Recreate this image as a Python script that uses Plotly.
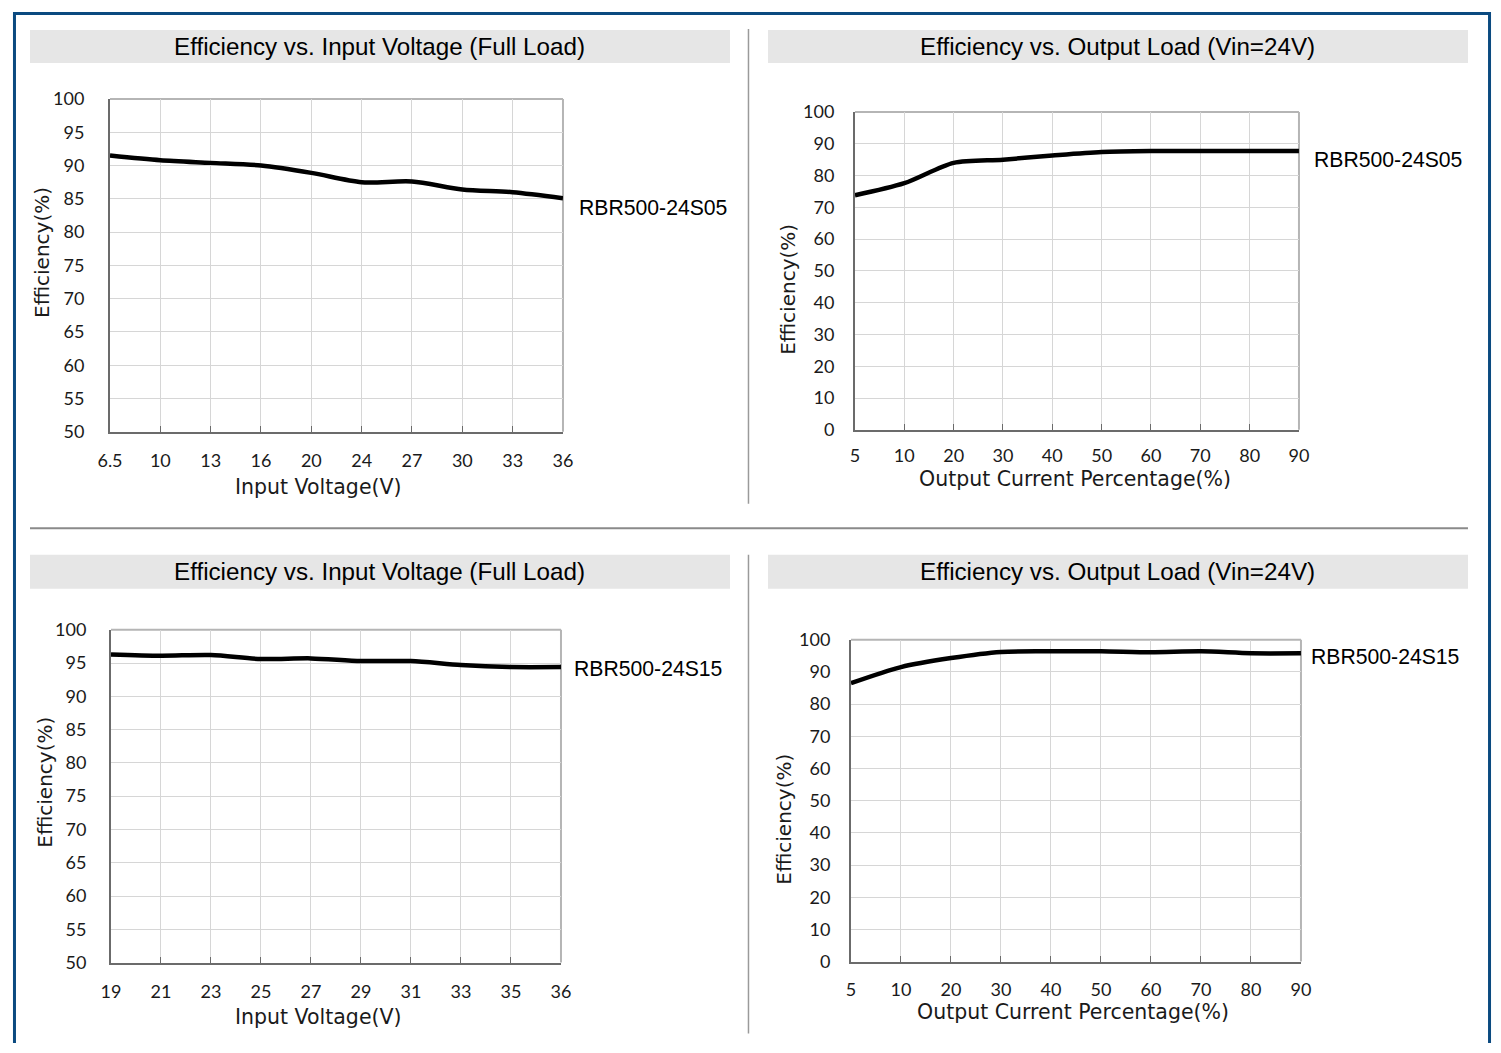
import plotly.graph_objects as go

W, H = 1501, 1053

# ---------------- data ----------------
vin_05 = ["6.5", "10", "13", "16", "20", "24", "27", "30", "33", "36"]
eff_vin_05 = [91.5, 90.8, 90.4, 90.0, 88.9, 87.5, 87.6, 86.4, 86.0, 85.1]

load_pct = ["5", "10", "20", "30", "40", "50", "60", "70", "80", "90"]
eff_load_05 = [73.8, 77.6, 84.0, 85.0, 86.3, 87.4, 87.7, 87.7, 87.7, 87.7]

vin_15 = ["19", "21", "23", "25", "27", "29", "31", "33", "35", "36"]
eff_vin_15 = [96.3, 96.1, 96.2, 95.6, 95.7, 95.3, 95.3, 94.7, 94.4, 94.4]

eff_load_15 = [86.5, 91.5, 94.3, 96.2, 96.4, 96.4, 96.1, 96.4, 95.8, 95.8]

titles = ["Efficiency vs. Input Voltage (Full Load)", "Efficiency vs. Output Load (Vin=24V)",
          "Efficiency vs. Input Voltage (Full Load)", "Efficiency vs. Output Load (Vin=24V)"]
models = ["RBR500-24S05", "RBR500-24S05", "RBR500-24S15", "RBR500-24S15"]
xtitles = ["Input Voltage(V)", "Output Current Percentage(%)", "Input Voltage(V)", "Output Current Percentage(%)"]

# ---------------- layout helpers ----------------
# target pixel positions are compensated for the small inset seen in the photographed page
OFF, SX, SY = 13.0, 0.9847, 0.9795

def px(x):
    return ((x - OFF) / SX) / W

def py(y):
    return 1 - ((y - OFF) / SY) / H

areas = [(110, 563, 100, 433), (855, 1299, 113, 431), (111, 561, 631, 964), (851, 1301, 641, 963)]
yranges = [(50, 100, 5), (0, 100, 10), (50, 100, 5), (0, 100, 10)]
series = [(vin_05, eff_vin_05), (load_pct, eff_load_05), (vin_15, eff_vin_15), (load_pct, eff_load_15)]
label_pos = [(577, 209), (1312, 161), (572, 670), (1309, 658)]
ytitle_pos = [(42, 253), (788, 290), (45, 783), (784, 820)]
xtitle_pos = [(319, 488), (1075, 480), (319, 1018), (1073, 1013)]
title_bars = [(30, 730, 31, 64), (768, 1468, 31, 64), (30, 730, 556, 590), (768, 1468, 556, 590)]
x_standoff = [12, 9, 12, 11]
y_standoff = [20, 15, 19, 15]

TICKFONT = dict(family="Lato, 'DejaVu Sans', sans-serif", size=18, color="#1a1a1a")
AXTITLE = "'DejaVu Sans', sans-serif"
ARIAL = "'Liberation Sans', Arial, sans-serif"

fig = go.Figure()
shapes = []
annotations = []

for i in range(4):
    n = i + 1
    xa = "x" if n == 1 else f"x{n}"
    ya = "y" if n == 1 else f"y{n}"
    xs, ys = series[i]
    fig.add_trace(go.Scatter(x=xs, y=ys, mode="lines", xaxis=xa, yaxis=ya,
                             line=dict(color="#000000", width=4.5, shape="spline", smoothing=0.8),
                             showlegend=False, hoverinfo="x+y"))
    x0, x1, yt, yb = areas[i]
    lo, hi, dt = yranges[i]
    xkey = "xaxis" if n == 1 else f"xaxis{n}"
    ykey = "yaxis" if n == 1 else f"yaxis{n}"
    fig.layout[xkey] = dict(
        domain=[px(x0), px(x1)], anchor=ya, type="category", range=[0, 9],
        showgrid=True, gridcolor="#d6d6d6", gridwidth=1,
        showline=True, linecolor="#6b6b6b", linewidth=2,
        ticks="inside", ticklen=6, tickcolor="#6b6b6b", tickwidth=1,
        tickfont=TICKFONT, ticklabelstandoff=x_standoff[i], fixedrange=True, zeroline=False,
    )
    fig.layout[ykey] = dict(
        domain=[py(yb), py(yt)], anchor=xa, range=[lo, hi], dtick=dt, tick0=lo,
        showgrid=True, gridcolor="#d6d6d6", gridwidth=1,
        showline=True, linecolor="#6b6b6b", linewidth=2,
        ticks="", tickfont=TICKFONT, ticklabelstandoff=y_standoff[i], fixedrange=True, zeroline=False,
    )
    # top / right frame
    shapes.append(dict(type="line", xref="paper", yref="paper", x0=px(x0), x1=px(x1), y0=py(yt), y1=py(yt),
                       line=dict(color="#b5b5b5", width=2), layer="below"))
    shapes.append(dict(type="line", xref="paper", yref="paper", x0=px(x1), x1=px(x1), y0=py(yb), y1=py(yt),
                       line=dict(color="#b5b5b5", width=2), layer="below"))
    # title bar
    bx0, bx1, by0, by1 = title_bars[i]
    shapes.append(dict(type="rect", xref="paper", yref="paper", x0=px(bx0), x1=px(bx1), y0=py(by1), y1=py(by0),
                       fillcolor="#e6e6e6", line=dict(width=0), layer="below"))
    annotations.append(dict(text=titles[i], xref="paper", yref="paper", x=px((bx0 + bx1) / 2),
                            y=py((by0 + by1) / 2), showarrow=False, xanchor="center", yanchor="middle",
                            font=dict(family=ARIAL, size=24.2, color="#000000")))
    # model label
    lx, ly = label_pos[i]
    annotations.append(dict(text=models[i], xref="paper", yref="paper", x=px(lx), y=py(ly), showarrow=False,
                            xanchor="left", yanchor="middle", font=dict(family=ARIAL, size=21.2, color="#000000")))
    # axis titles
    tx, ty = ytitle_pos[i]
    annotations.append(dict(text="Efficiency(%)", xref="paper", yref="paper", x=px(tx), y=py(ty), showarrow=False,
                            textangle=-90, xanchor="center", yanchor="middle",
                            font=dict(family=AXTITLE, size=20, color="#1a1a1a")))
    tx, ty = xtitle_pos[i]
    annotations.append(dict(text=xtitles[i], xref="paper", yref="paper", x=px(tx), y=py(ty), showarrow=False,
                            xanchor="center", yanchor="middle",
                            font=dict(family=AXTITLE, size=20.5, color="#1a1a1a")))

# dividers
shapes.append(dict(type="line", xref="paper", yref="paper", x0=px(30), x1=px(1468), y0=py(529.5), y1=py(529.5),
                   line=dict(color="#8a8a8a", width=2)))
shapes.append(dict(type="line", xref="paper", yref="paper", x0=px(748.5), x1=px(748.5), y0=py(30), y1=py(505),
                   line=dict(color="#9a9a9a", width=1.5)))
shapes.append(dict(type="line", xref="paper", yref="paper", x0=px(748.5), x1=px(748.5), y0=py(556), y1=py(1035),
                   line=dict(color="#9a9a9a", width=1.5)))
# outer border (left, top, right), kept inside the page
BORDER = dict(color="#0b4a80", width=3)
shapes.append(dict(type="line", xref="paper", yref="paper", x0=1.5 / W, x1=1.5 / W, y0=0, y1=1, line=BORDER))
shapes.append(dict(type="line", xref="paper", yref="paper", x0=0, x1=1, y0=1 - 1.5 / H, y1=1 - 1.5 / H, line=BORDER))
shapes.append(dict(type="line", xref="paper", yref="paper", x0=1 - 1.5 / W, x1=1 - 1.5 / W, y0=0, y1=1, line=BORDER))

fig.update_layout(width=W, height=H, margin=dict(l=0, r=0, t=0, b=0),
                  paper_bgcolor="#ffffff", plot_bgcolor="#ffffff",
                  shapes=shapes, annotations=annotations, showlegend=False)

fig.write_html("out.html", config={"displayModeBar": False},
               post_script="document.body.style.margin='0';document.body.style.overflow='hidden';")
